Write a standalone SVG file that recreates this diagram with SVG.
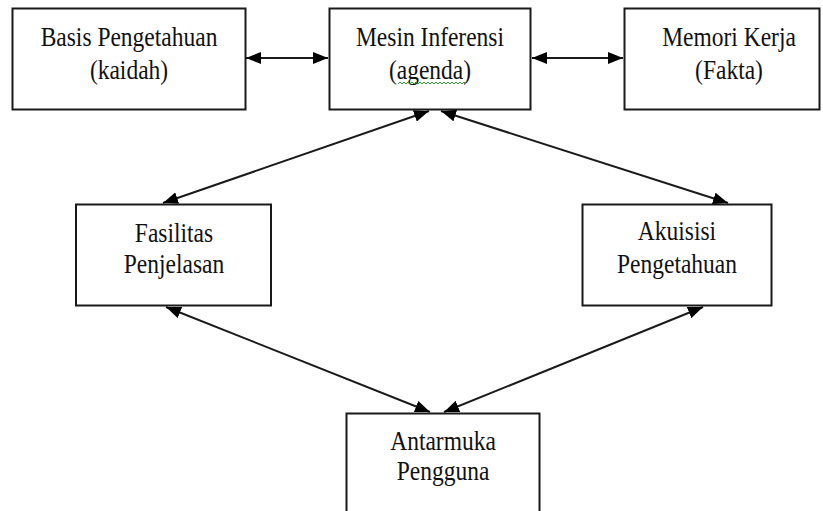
<svg xmlns="http://www.w3.org/2000/svg" width="823" height="511" viewBox="0 0 823 511">
<style>
.box{fill:#fff;stroke:#1a1a1a;stroke-width:2}
.lbl{font-family:'Liberation Serif','Times New Roman',Times,serif;font-size:23.5px;fill:#111;text-anchor:middle}
.con{stroke:#1a1a1a;stroke-width:2;fill:none;marker-start:url(#ah);marker-end:url(#ah)}
</style>
<defs>
<marker id="ah" viewBox="0 0 15 12" refX="15" refY="6" markerWidth="15" markerHeight="12" markerUnits="userSpaceOnUse" orient="auto-start-reverse">
<path d="M0,0 L15,6 L0,12 z" fill="#000"/>
</marker>
</defs>
<rect width="823" height="511" fill="#fff"/>
<g id="connectors">
<line class="con" x1="246" y1="58" x2="328" y2="58"/>
<line class="con" x1="532" y1="58" x2="623" y2="58"/>
<line class="con" x1="429" y1="111" x2="163" y2="203"/>
<line class="con" x1="441" y1="111" x2="728" y2="203"/>
<line class="con" x1="166" y1="307" x2="430" y2="412"/>
<line class="con" x1="703" y1="307" x2="444" y2="412"/>
</g>
<g id="basis">
<rect class="box" x="12.5" y="8.5" width="233" height="101"/>
<text class="lbl" font-family="Liberation Serif" transform="translate(129,46) scale(1,1.2)">Basis Pengetahuan</text>
<text class="lbl" font-family="Liberation Serif" transform="translate(129,79) scale(1,1.2)">(kaidah)</text>
</g>
<g id="mesin">
<rect class="box" x="329.5" y="8.5" width="201" height="101"/>
<text class="lbl" font-family="Liberation Serif" transform="translate(430,46) scale(1,1.2)">Mesin Inferensi</text>
<text class="lbl" font-family="Liberation Serif" transform="translate(430,79) scale(1,1.2)">(agenda)</text>
<polyline points="398,84 400,82 402,84 404,82 406,84 408,82 410,84 412,82 414,84 416,82 418,84 420,82 422,84 424,82 426,84 428,82 430,84 432,82 434,84 436,82 438,84 440,82 442,84 444,82 446,84 448,82 450,84 452,82 454,84 456,82 458,84 460,82 462,84 464,82 466,84" fill="none" stroke="#3a9a3a" stroke-width="1"/>
</g>
<g id="memori">
<rect class="box" x="624.5" y="8.5" width="195" height="101"/>
<text class="lbl" font-family="Liberation Serif" transform="translate(729,46) scale(1,1.2)">Memori Kerja</text>
<text class="lbl" font-family="Liberation Serif" transform="translate(729,79) scale(1,1.2)">(Fakta)</text>
</g>
<g id="fasilitas">
<rect class="box" x="76" y="204.5" width="195" height="101"/>
<text class="lbl" font-family="Liberation Serif" transform="translate(174,242) scale(1,1.2)">Fasilitas</text>
<text class="lbl" font-family="Liberation Serif" transform="translate(174,273) scale(1,1.2)">Penjelasan</text>
</g>
<g id="akuisisi">
<rect class="box" x="582.5" y="204.5" width="189" height="101"/>
<text class="lbl" font-family="Liberation Serif" transform="translate(677,240) scale(1,1.2)">Akuisisi</text>
<text class="lbl" font-family="Liberation Serif" transform="translate(677,273) scale(1,1.2)">Pengetahuan</text>
</g>
<g id="antarmuka">
<rect class="box" x="346.5" y="413.5" width="193" height="110"/>
<text class="lbl" font-family="Liberation Serif" transform="translate(443,450) scale(1,1.2)">Antarmuka</text>
<text class="lbl" font-family="Liberation Serif" transform="translate(443,480) scale(1,1.2)">Pengguna</text>
</g>
</svg>
